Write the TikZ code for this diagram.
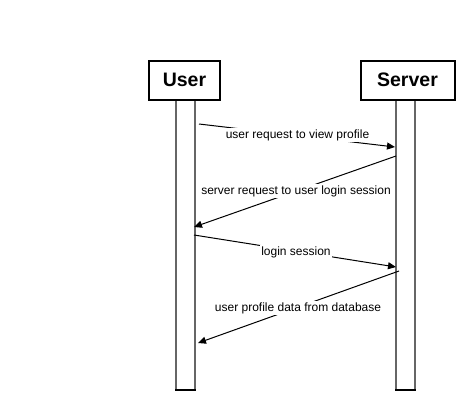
\documentclass[tikz,border=0pt]{standalone}
\usepackage{fontspec}
\setmainfont{Liberation Sans}
\usetikzlibrary{arrows.meta}
\begin{document}
\begin{tikzpicture}[x=1pt,y=-1pt,
  actor/.style={draw=black,line width=2pt,fill=white,inner sep=0pt,font=\fontsize{19.5}{22}\selectfont\bfseries},
  bar/.style={draw=gray!80!black,line width=1.5pt},
  msg/.style={draw=black,line width=1pt,-{Triangle[length=8pt,width=7pt]}},
  lbl/.style={fill=white,inner sep=1pt,font=\fontsize{12}{14}\selectfont}]
\useasboundingbox (0,0) rectangle (475,410);
% lifeline bars
\fill[white] (176,100) rectangle (195,390);
\draw[bar] (176,100) -- (176,390);
\draw[bar] (195,100) -- (195,390);
\draw[black,line width=1.5pt] (175.25,390) -- (195.75,390);
\fill[white] (396,100) rectangle (415,390);
\draw[bar] (396,100) -- (396,390);
\draw[bar] (415,100) -- (415,390);
\draw[black,line width=1.5pt] (395.25,390) -- (415.75,390);
% actor boxes
\node[actor,minimum width=71pt,minimum height=39pt] (user) at (184.5,80) {User};
\node[actor,minimum width=94pt,minimum height=39pt] (server) at (407.5,80) {Server};
% message end points
\coordinate (m1s) at (199,124);
\coordinate (m1e) at (395,147);
\coordinate (m2s) at (396,156);
\coordinate (m2e) at (194,227);
\coordinate (m3s) at (194,235);
\coordinate (m3e) at (396,267);
\coordinate (m4s) at (399,271);
\coordinate (m4e) at (198,343);
\draw[msg] (m1s) -- (m1e);
\draw[msg] (m2s) -- (m2e);
\draw[msg] (m3s) -- (m3e);
\draw[msg] (m4s) -- (m4e);
\node[lbl] (l1) at (297.5,135) {user request to view profile};
\node[lbl] (l2) at (296,191) {server request to user login session};
\node[lbl] (l3) at (296,252) {login session};
\node[lbl] (l4) at (298,308) {user profile data from database};
\end{tikzpicture}
\end{document}
